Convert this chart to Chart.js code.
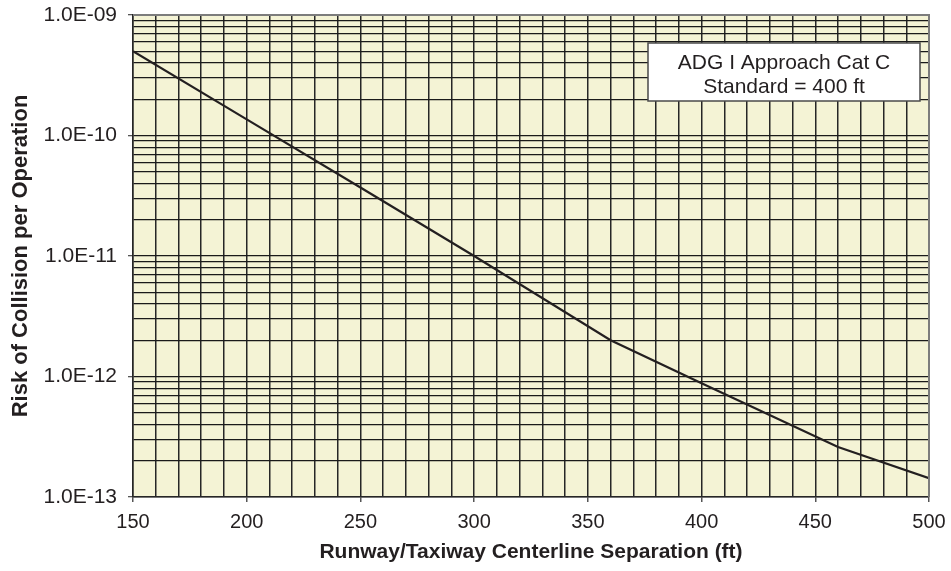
<!DOCTYPE html>
<html>
<head>
<meta charset="utf-8">
<script src="https://cdn.jsdelivr.net/npm/chart.js@4"></script>
<style>
  html, body { margin: 0; padding: 0; background: #ffffff; }
  #wrap { width: 951px; height: 571px; position: relative; }
</style>
</head>
<body>
<div id="wrap"><canvas id="c" width="951" height="571"></canvas></div>
<script>
// ---- data ----
const separationFt = [150, 200, 250, 300, 360, 400, 460, 500];
const riskPerOperation = [5.0e-10, 1.36e-10, 3.7e-11, 1.0e-11, 2.0e-12, 8.8e-13, 2.6e-13, 1.43e-13];
const yDecadeExponents = [-13, -12, -11, -10, -9];
const yTickLabels = ['1.0E-13', '1.0E-12', '1.0E-11', '1.0E-10', '1.0E-09'];
const xMin = 150, xMax = 500, xGridStep = 10, xLabelStep = 50;
const annotationLines = ['ADG I Approach Cat C', 'Standard = 400 ft'];
const xTitle = 'Runway/Taxiway Centerline Separation (ft)';
const yTitle = 'Risk of Collision per Operation';

const FONT = "'Liberation Sans', Arial, Helvetica, sans-serif";
const TEXT = '#231f20';

function decadeIndex(v) {
  const e = Math.round(Math.log10(v));
  const m = v / Math.pow(10, e);
  if (Math.abs(m - 1) < 1e-6) return yDecadeExponents.indexOf(e);
  return -1;
}

const plotBg = {
  id: 'plotBg',
  beforeDraw(chart) {
    const {ctx, chartArea: a} = chart;
    ctx.save();
    ctx.fillStyle = '#f4f3d5';
    ctx.fillRect(a.left, a.top, a.right - a.left, a.bottom - a.top);
    ctx.restore();
  }
};

const frameAndNote = {
  id: 'frameAndNote',
  afterDraw(chart) {
    const {ctx, chartArea: a} = chart;
    ctx.save();
    ctx.strokeStyle = '#7c7c7c';
    ctx.lineWidth = 2;
    ctx.beginPath();
    ctx.moveTo(a.left, a.top);
    ctx.lineTo(a.right, a.top);
    ctx.lineTo(a.right, a.bottom);
    ctx.stroke();
    const w = 272, h = 58;
    const bx = a.right - 9 - w, by = a.top + 28;
    ctx.fillStyle = '#ffffff';
    ctx.fillRect(bx, by, w, h);
    ctx.strokeStyle = '#4a4a4a';
    ctx.lineWidth = 1.5;
    ctx.strokeRect(bx, by, w, h);
    ctx.fillStyle = TEXT;
    ctx.font = '21px ' + FONT;
    ctx.textAlign = 'center';
    ctx.textBaseline = 'middle';
    ctx.fillText(annotationLines[0], bx + w / 2, by + 20);
    ctx.fillText(annotationLines[1], bx + w / 2, by + 44);
    ctx.restore();
  }
};

new Chart(document.getElementById('c'), {
  type: 'line',
  data: {
    datasets: [{
      data: separationFt.map((x, i) => ({x: x, y: riskPerOperation[i]})),
      borderColor: '#231f20',
      borderWidth: 2.2,
      pointRadius: 0,
      tension: 0,
      fill: false
    }]
  },
  options: {
    responsive: false,
    animation: false,
    devicePixelRatio: 1,
    layout: { padding: { left: 0, right: 22, top: 15, bottom: 0 } },
    plugins: { legend: { display: false }, tooltip: { enabled: false } },
    scales: {
      x: {
        type: 'linear',
        min: xMin, max: xMax,
        afterFit(scale) {
          scale.height = 74;
          scale.paddingLeft = 0;
          scale.paddingRight = 0;
        },
        ticks: {
          stepSize: xGridStep,
          autoSkip: false,
          maxRotation: 0,
          padding: 8,
          color: TEXT,
          font: { family: FONT, size: 20 },
          callback: (v) => (v % xLabelStep === 0 ? String(v) : '')
        },
        grid: {
          color: '#262626',
          lineWidth: 1.5,
          tickLength: 5,
          tickColor: (ctx) => (ctx.tick && ctx.tick.value % xLabelStep === 0 ? '#555555' : 'rgba(0,0,0,0)')
        },
        border: { display: true, color: '#262626', width: 1.5 },
        title: {
          display: true,
          text: xTitle,
          color: TEXT,
          font: { family: FONT, size: 21, weight: 'bold' },
          padding: { top: 0, bottom: 6 }
        }
      },
      y: {
        type: 'logarithmic',
        min: Math.pow(10, yDecadeExponents[0]),
        max: Math.pow(10, yDecadeExponents[yDecadeExponents.length - 1]),
        afterFit(scale) {
          scale.width = 133;
          scale.paddingTop = 0;
          scale.paddingBottom = 0;
        },
        afterBuildTicks(scale) {
          const t = [];
          for (let k = 0; k < yDecadeExponents.length; k++) {
            const e = yDecadeExponents[k];
            const maxM = (k === yDecadeExponents.length - 1) ? 1 : 9;
            for (let m = 1; m <= maxM; m++) {
              t.push({ value: m * Math.pow(10, e) });
            }
          }
          scale.ticks = t;
        },
        ticks: {
          autoSkip: false,
          padding: 11,
          color: TEXT,
          font: { family: FONT, size: 21 },
          callback: (v) => {
            const i = decadeIndex(v);
            return i >= 0 ? yTickLabels[i] : '';
          }
        },
        grid: {
          color: '#1a1a1a',
          lineWidth: 1.3,
          tickLength: 5,
          tickColor: (ctx) => (ctx.tick && decadeIndex(ctx.tick.value) >= 0 ? '#555555' : 'rgba(0,0,0,0)')
        },
        border: { display: true, color: '#262626', width: 1.5 },
        title: {
          display: true,
          text: yTitle,
          color: TEXT,
          font: { family: FONT, size: 22, weight: 'bold' },
          padding: { top: 8, bottom: 0 }
        }
      }
    }
  },
  plugins: [plotBg, frameAndNote]
});
</script>
</body>
</html>
